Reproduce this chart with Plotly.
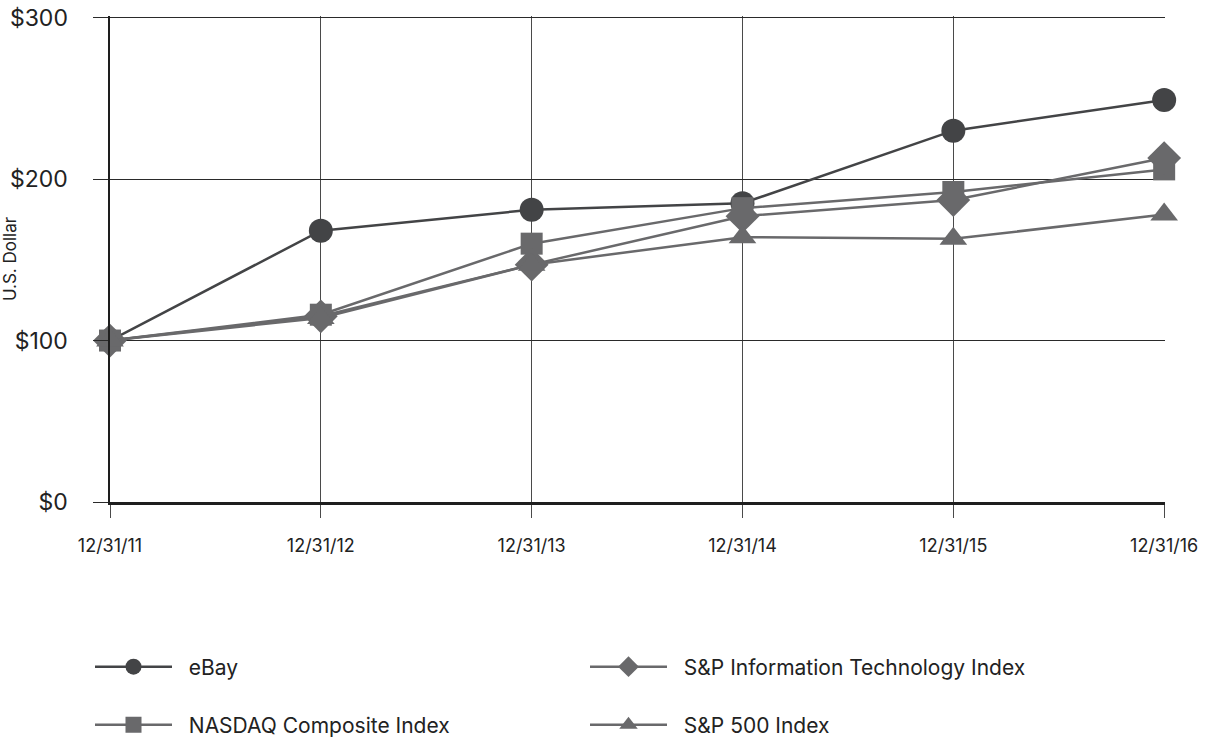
import plotly.graph_objects as go

dates = ["12/31/11", "12/31/12", "12/31/13", "12/31/14", "12/31/15", "12/31/16"]
ebay = [100, 168, 181, 185, 230, 249]
nasdaq = [100, 116, 160, 182, 192, 206]
sp_it = [100, 115, 147, 177, 187, 213]
sp500 = [100, 114, 147, 164, 163, 178]
y_ticks = [0, 100, 200, 300]
y_labels = ["$0", "$100", "$200", "$300"]

xs = list(range(len(dates)))
FONT = "Inter, Roboto, sans-serif"
DARK = "#434446"
GREY = "#69696b"
PAD = "\u00a0" * 2

W, H = 1205, 738
L, R, T, B = 110, 40, 16, 236
PW, PH = W - L - R, H - T - B
Y0 = H - B  # pixel row of the x axis

fig = go.Figure()

def add(name, vals, color, symbol, size, legend, rank):
    fig.add_trace(go.Scatter(
        x=xs, y=vals, name=PAD + name, mode="lines+markers",
        line=dict(color=color, width=2.5),
        marker=dict(symbol=symbol, size=size, color=color),
        cliponaxis=False, legend=legend, legendrank=rank,
    ))

add("eBay", ebay, DARK, "circle", 24, "legend", 1)
add("NASDAQ Composite Index", nasdaq, GREY, "square", 22, "legend2", 1)
add("S&P Information Technology Index", sp_it, GREY, "diamond", 26, "legend", 2)
add("S&P 500 Index", sp500, GREY, "triangle-up", 24, "legend2", 2)

leg_common = dict(orientation="h", xanchor="left", yanchor="middle",
                  entrywidth=403, entrywidthmode="pixels", itemwidth=77,
                  font=dict(family=FONT, size=21, color="#222"),
                  bgcolor="rgba(0,0,0,0)", itemclick=False, traceorder="normal")

lx = (90 - L) / PW
fig.update_layout(
    width=W, height=H,
    margin=dict(l=L, r=R, t=T, b=B, autoexpand=False),
    paper_bgcolor="white", plot_bgcolor="white",
    font=dict(family=FONT, color="#222"),
    showlegend=True, hovermode=False,
    legend=dict(x=lx, y=(Y0 - 667) / PH, **leg_common),
    legend2=dict(x=lx, y=(Y0 - 725) / PH, **leg_common),
    xaxis=dict(
        range=[0, 5.004], tickvals=xs, ticktext=dates,
        showgrid=True, gridcolor="#4a4a4a", gridwidth=1,
        ticks="outside", ticklen=13, tickcolor="#4a4a4a", tickwidth=1,
        ticklabelstandoff=13, automargin=False, ticklabeloverflow="allow",
        tickfont=dict(family=FONT, size=18, color="#222"),
        showline=True, linecolor="#1e1e1e", linewidth=2.5,
        zeroline=False, fixedrange=True,
    ),
    yaxis=dict(
        range=[0, 301], tickvals=y_ticks, ticktext=y_labels,
        showgrid=True, gridcolor="#2a2a2a", gridwidth=1,
        ticks="outside", ticklen=15, tickcolor="#2a2a2a", tickwidth=1,
        ticklabelstandoff=20, automargin=False, ticklabeloverflow="allow",
        tickfont=dict(family=FONT, size=23, color="#222"),
        showline=True, linecolor="#1e1e1e", linewidth=2.5,
        zeroline=False, fixedrange=True,
        title=dict(text="U.S. Dollar", font=dict(family=FONT, size=17, color="#222"), standoff=0),
    ),
)

fig.write_html("out.html", config={"displayModeBar": False, "staticPlot": True},
               post_script="document.body.style.margin='0';")
